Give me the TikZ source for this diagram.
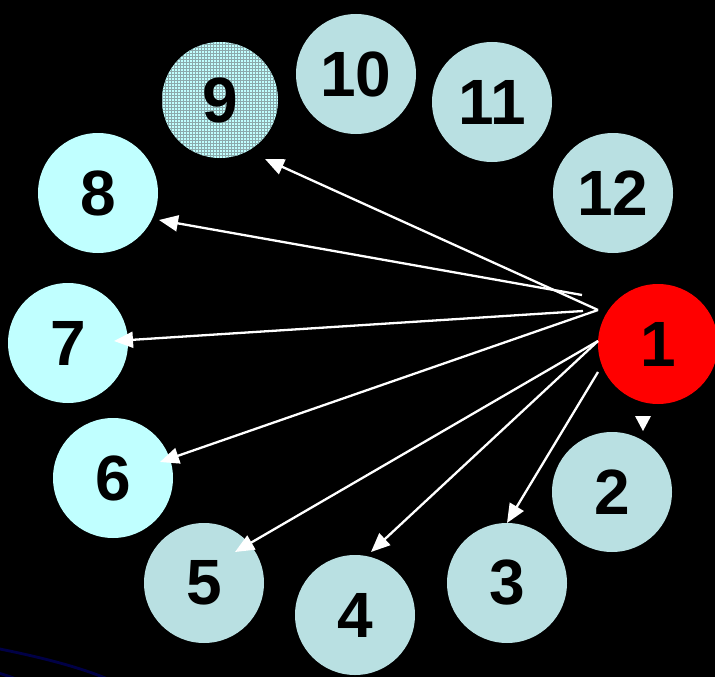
\documentclass[tikz,border=0pt]{standalone}
\usepackage{fontspec}
\setmainfont{Liberation Sans}
\usetikzlibrary{arrows.meta,patterns}
\definecolor{ballgray}{RGB}{185,224,226}
\definecolor{ballcyan}{RGB}{192,255,255}
\definecolor{ballred}{RGB}{255,0,0}
\definecolor{gridgray}{RGB}{140,170,172}
\definecolor{navy}{RGB}{0,0,70}
\tikzset{
  ball/.style={circle, inner sep=0pt, minimum size=120pt, fill=ballgray,
    font=\fontsize{64}{64}\selectfont\bfseries, text=black},
  brightball/.style={ball, fill=ballcyan},
  redball/.style={ball, fill=ballred},
  link/.style={draw=white, line width=2.3pt,
    -{Triangle[length=19pt, width=16pt]}},
}
\begin{document}
\begin{tikzpicture}[x=1pt, y=-1pt]
  \fill[black] (0,0) rectangle (715,677);
  \useasboundingbox (0,0) rectangle (715,677);

  % dark blue outline passing through the lower left corner
  \draw[navy, line width=2.8pt] (-5,648) .. controls (40,657) and (80,667) .. (110,680);
  \draw[navy, line width=2.8pt] (-5,672) .. controls (5,675) and (12,677) .. (18,680);

  % the twelve balls
  \node[redball]    (n1)  at (658,344) {1};
  \node[ball]       (n2)  at (612,492) {2};
  \node[ball]       (n3)  at (507,583) {3};
  \node[ball]       (n4)  at (355,615) {4};
  \node[ball]       (n5)  at (204,583) {5};
  \node[brightball] (n6)  at (113,478) {6};
  \node[brightball] (n7)  at (68,343)  {7};
  \node[brightball] (n8)  at (98,193)  {8};
  \fill[ballcyan] (220,100) circle (58pt);
  \fill[pattern=grid, pattern color=gridgray] (220,100) circle (58pt);
  \node[ball, fill=none, minimum size=116pt] (n9) at (220,100) {9};
  \node[ball]       (n10) at (356,74)  {10};
  \node[ball]       (n11) at (492,102) {11};
  \node[ball]       (n12) at (613,193) {12};

  % starting points of the arrows, just left of ball 1
  \coordinate (s8) at (582,295);
  \coordinate (s7) at (583,311);
  \coordinate (sa) at (598,310);
  \coordinate (sb) at (598,341);
  \coordinate (sc) at (598,372);

  % arrow tips
  \coordinate (t9) at (265,159);
  \coordinate (t8) at (159,220);
  \coordinate (t7) at (114,341);
  \coordinate (t6) at (160,462);
  \coordinate (t5) at (235,552);
  \coordinate (t4) at (371,552);
  \coordinate (t3) at (507,523);

  \draw[link] (sa) -- (t9);
  \draw[link] (s8) -- (t8);
  \draw[link] (s7) -- (t7);
  \draw[link] (sa) -- (t6);
  \draw[link] (sb) -- (t5);
  \draw[link] (sb) -- (t4);
  \draw[link] (sc) -- (t3);

  % lone arrow head between balls 1 and 2
  \coordinate (h) at (643,431);
  \fill[white] (h) -- ++(-8,-15) -- ++(16,0) -- cycle;
\end{tikzpicture}
\end{document}
